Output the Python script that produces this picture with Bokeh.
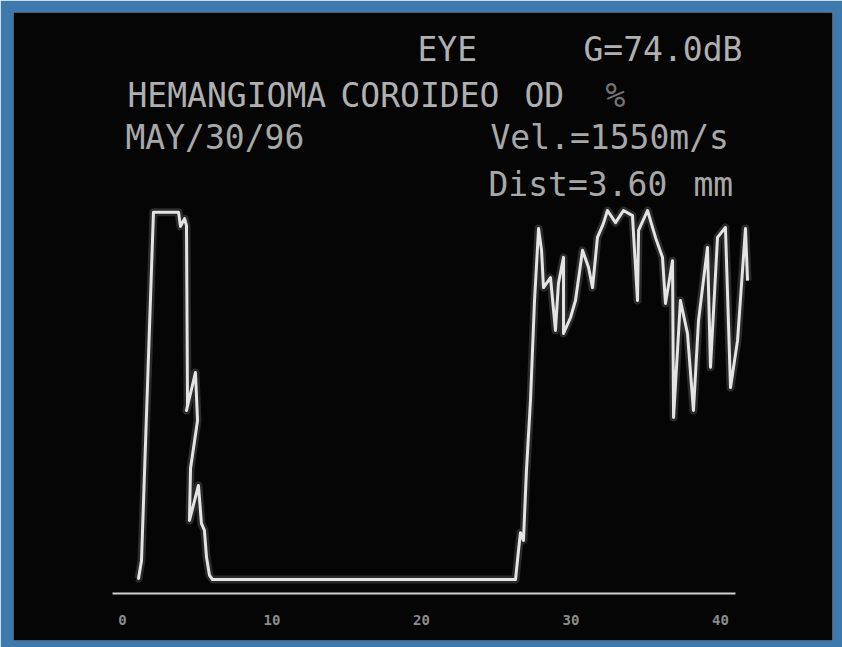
from bokeh.plotting import figure
from bokeh.models import Range1d, Label, LinearAxis, FixedTicker
from bokeh.embed import file_html
from bokeh.resources import INLINE

# ---- data: A-scan trace (depth in mm, echo amplitude in % of screen) ----
depth_mm = [1.0, 1.07, 1.27, 2.07, 3.75, 3.88, 4.15, 4.28, 4.35, 4.28, 4.88, 5.02,
            4.55, 4.48, 5.08, 5.28, 5.48, 5.62, 5.82, 6.02,
            26.29, 26.49, 26.62, 26.82, 27.02, 27.29, 27.56, 27.83, 28.03, 28.16,
            28.63, 28.96, 29.16, 29.50, 29.50, 29.97, 30.30, 30.77, 31.17, 31.44,
            31.77, 32.17, 32.44, 32.98, 33.51, 34.11, 34.45, 34.52, 35.12, 35.65,
            36.12, 36.32, 36.79, 36.86, 37.32, 37.79, 38.19, 38.53, 39.13, 39.33,
            39.80, 40.33, 40.67, 41.14, 41.67, 41.81]
amplitude = [0.5, 0.3, 5.1, 99.5, 99.5, 95.7, 97.8, 95.9, 47.2, 45.8, 56.1, 43.1,
             30.1, 16.0, 25.5, 15.2, 13.3, 6.0, 1.1, 0.0,
             0.0, 7.9, 12.7, 10.6, 29.5, 48.5, 75.6, 95.1, 89.2, 79.1,
             81.8, 67.5, 80.2, 87.3, 66.7, 71.0, 75.6, 89.2, 84.6, 79.1,
             92.7, 96.5, 100.0, 96.7, 100.0, 98.6, 75.6, 94.6, 100.0, 92.7,
             87.3, 74.8, 86.4, 43.9, 75.6, 66.7, 45.8, 70.2, 90.0, 57.5,
             92.7, 95.4, 52.0, 64.8, 95.1, 81.0]
tick_values = [0, 10, 20, 30, 40]
tick_labels = ["0", "10", "20", "30", "40"]
header_texts = ["EYE", "G=74.0dB", "HEMANGIOMA", "COROIDEO", "OD", "%",
                "MAY/30/96", "Vel.=1550m/s", "Dist=3.60", "mm"]

# ---- layout helpers (screen pixel -> data) ----
X0, SX, Y0, SY = 122.0, 14.95, 579.0, 3.69
def px2x(px):
    return (px - X0) / SX
def py2y(py):
    return (Y0 - py) / SY

W, H = 842, 647
L, R, T, B = 13, 10, 12, 7

p = figure(width=W, height=H, output_backend="svg", toolbar_location=None,
           x_axis_location=None, y_axis_location=None,
           x_range=Range1d(px2x(L), px2x(W - R)),
           y_range=Range1d(py2y(H - B), py2y(T)),
           min_border_left=L, min_border_right=R, min_border_top=T, min_border_bottom=B)
p.border_fill_color = "#3e79ae"
p.background_fill_color = "#050505"
p.outline_line_color = None
p.grid.visible = False

# real axis drawn inside the screen at the baseline
ax = LinearAxis(fixed_location=-3.9, bounds=(px2x(112), px2x(735)),
                ticker=FixedTicker(ticks=tick_values),
                major_label_overrides={v: s for v, s in zip(tick_values, tick_labels)})
ax.axis_line_color = "#d0d0d0"
ax.axis_line_width = 2
ax.major_tick_line_color = None
ax.minor_tick_line_color = None
ax.major_label_text_color = "#8c8c8c"
ax.major_label_text_font = "DejaVu Sans Mono"
ax.major_label_text_font_size = "14px"
ax.major_label_text_font_style = "bold"
ax.major_label_standoff = 15
p.add_layout(ax, "below")

# glow + trace
p.line(depth_mm, amplitude, line_color="white", line_alpha=0.15, line_width=8, line_join="round")
p.line(depth_mm, amplitude, line_color="#e4e4e4", line_width=3, line_join="round")

# header text
positions = [(417, 49), (583, 49), (127, 95), (340, 95), (524, 95), (605, 95),
             (125, 137), (490, 137), (488, 184), (693, 184)]
colors = ["#b0b0b0"] * 5 + ["#747474"] + ["#a8a8a8"] * 4
for txt, (px, py), c in zip(header_texts, positions, colors):
    p.add_layout(Label(x=px2x(px), y=py2y(py), text=txt, text_color=c,
                       text_font="DejaVu Sans Mono", text_font_size="33px",
                       text_baseline="alphabetic", text_align="left"))

open("out.html", "w").write(file_html(p, INLINE))
